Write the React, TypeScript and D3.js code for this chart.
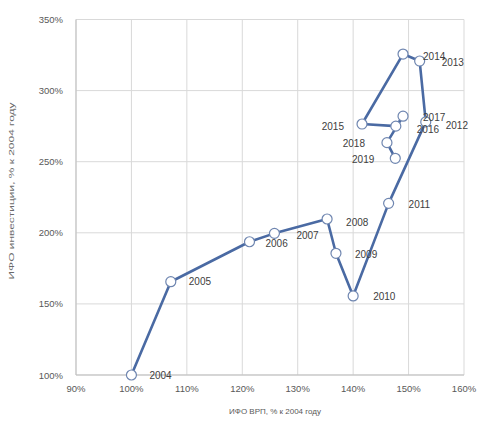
import React from "react";
import * as d3 from "d3";

const years = ["2004","2005","2006","2007","2008","2009","2010","2011","2012","2013","2014","2015","2016","2017","2018","2019"];
const grpValues = [100, 107.1, 121.3, 125.8, 135.3, 136.9, 140, 146.4, 153.1, 152, 149, 141.6, 147.7, 149, 146.1, 147.6];
const invValues = [100, 165.6, 193.7, 199.6, 209.7, 185.6, 155.6, 220.7, 278, 320.8, 325.7, 276.5, 275, 282, 263.4, 252.4];
const labelSide = ["r","r","r","r","r","r","r","r","r","r","r","l","r","r","l","l"];
const labelDx = [18, 18, 16, 22, 19, 19, 20, 20, 20, 22, 20, -18, 21, 20, -22, -21];
const labelDy = [0, 0, 2, 2, 3, 1, 1, 1, 4, 1, 2, 2, 3, 1, 1, 1];
const xTicks = [90, 100, 110, 120, 130, 140, 150, 160];
const yTicks = [100, 150, 200, 250, 300, 350];

export default function App() {
  const W = 478, H = 421;
  const x = d3.scaleLinear().domain([90, 160]).range([76, 464]);
  const y = d3.scaleLinear().domain([100, 350]).range([375, 19.5]);
  const pts = years.map((yr, i) => ({ yr, x: x(grpValues[i]), y: y(invValues[i]), i }));
  const line = d3.line<any>().x(d => d.x).y(d => d.y);
  const font = "'Liberation Sans', Arial, sans-serif";
  return (
    <svg width={W} height={H} style={{ position: "absolute", left: 0, top: 0, background: "#fff" }} fontFamily={font}>
      <rect width={W} height={H} fill="#fff" />
      {xTicks.map(t => (
        <line key={"gx" + t} x1={x(t)} x2={x(t)} y1={y(100)} y2={y(350)} stroke="#d9d9d9" strokeWidth={1} />
      ))}
      {yTicks.map(t => (
        <line key={"gy" + t} x1={x(90)} x2={x(160)} y1={y(t)} y2={y(t)} stroke="#d9d9d9" strokeWidth={1} />
      ))}
      <line x1={x(90)} x2={x(90)} y1={y(100)} y2={y(350)} stroke="#bfbfbf" />
      <line x1={x(90)} x2={x(160)} y1={y(100)} y2={y(100)} stroke="#bfbfbf" />
      {xTicks.map(t => (
        <text key={"tx" + t} x={x(t)} y={y(100) + 17} textAnchor="middle" fontSize={9.5} fill="#595959">{t + "%"}</text>
      ))}
      {yTicks.map(t => (
        <text key={"ty" + t} x={x(90) - 13} y={y(t) + 3.5} textAnchor="end" fontSize={9.5} fill="#595959">{t + "%"}</text>
      ))}
      <text x={275} y={414} textAnchor="middle" fontSize={8} fill="#595959">ИФО ВРП, % к 2004 году</text>
      <text transform={`translate(14,191) rotate(-90)`} textAnchor="middle" fontSize={7.5} fill="#6a6a6a"
        textLength={177} lengthAdjust="spacingAndGlyphs">ИФО инвестиции, % к 2004 году</text>
      <path d={line(pts) || ""} fill="none" stroke="#4a6aa3" strokeWidth={2.6} strokeLinejoin="round" />
      {pts.map(p => (
        <circle key={"c" + p.yr} cx={p.x} cy={p.y} r={5} fill="#fff" stroke="#6f86b0" strokeWidth={1.2} />
      ))}
      {pts.map(p => (
        <text key={"l" + p.yr} x={p.x + labelDx[p.i]} y={p.y + labelDy[p.i] + 3.5}
          textAnchor={labelSide[p.i] === "l" ? "end" : "start"} fontSize={10} fill="#404040">{p.yr}</text>
      ))}
    </svg>
  );
}
